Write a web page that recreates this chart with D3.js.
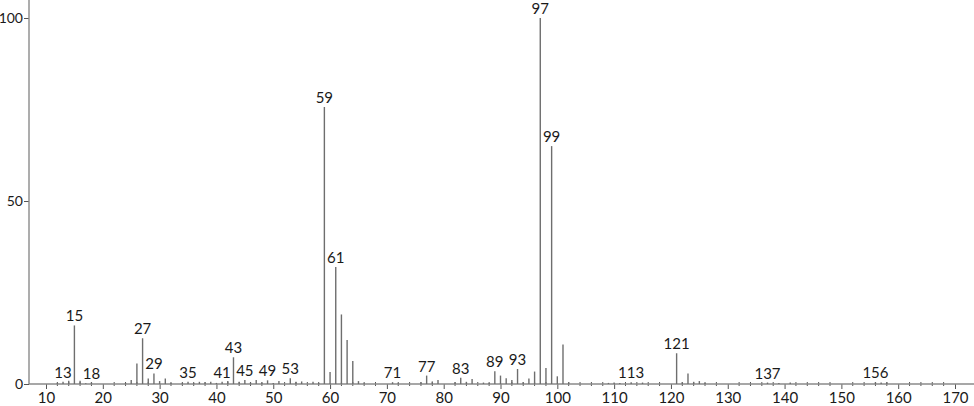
<!DOCTYPE html>
<html lang="en">
<head>
  <meta charset="UTF-8">
  <title>Mass Spectrum</title>
  <script src="https://d3js.org/d3.v7.min.js"></script>
  <style>
    body { margin: 0; background: #fff; }
    .peak { stroke: #6e6e6e; stroke-width: 1.4px; }
    .axis-line { stroke: #8a8a8a; stroke-width: 1.4px; }
    text { font-family: Lato, "DejaVu Sans", sans-serif; font-weight: 400; font-size: 15px; fill: #1a1a1a; }
  </style>
</head>
<body>
  <svg width="974" height="406"></svg>
  <script>
// m/z and relative intensity
const masses = [12, 13, 14, 15, 16, 17, 18, 24, 25, 26, 27, 28, 29, 30, 31, 32, 34, 35, 36, 37, 38, 39, 40,
  41, 42, 43, 44, 45, 46, 47, 48, 49, 50, 51, 53, 54, 55, 57, 58, 59, 60, 61, 62, 63, 64, 65, 66,
  71, 72, 76, 77, 78, 79, 82, 83, 84, 85, 87, 88, 89, 90, 91, 92, 93, 94, 95, 96, 97, 98, 99, 100,
  101, 102, 109, 110, 111, 113, 115, 121, 122, 123, 124, 125, 126, 137, 139, 141, 156, 157, 158];
const intensities = [0.3, 0.6, 0.9, 16, 0.9, 0.2, 0.4, 0.3, 1.1, 5.6, 12.5, 1.5, 2.9, 0.8, 1.5, 0.3, 0.3, 0.6, 0.3, 0.6, 0.5, 0.6, 0.3,
  0.6, 0.8, 7.3, 0.6, 1.1, 0.4, 1.1, 0.4, 1.0, 0.3, 0.8, 1.6, 0.6, 0.7, 0.6, 0.3, 75.7, 3.3, 32, 19, 12, 6.3, 0.8, 0.2,
  0.5, 0.2, 0.5, 2.3, 0.7, 1.1, 0.5, 1.7, 0.6, 1.4, 0.4, 0.3, 3.5, 2.3, 1.6, 1.1, 4.1, 0.5, 1.5, 3.4, 100, 4.4, 65, 2.1,
  10.8, 0.5, 0.3, 0.4, 0.3, 0.5, 0.4, 8.4, 0.5, 2.9, 0.6, 0.8, 0.3, 0.4, 0.3, 0.4, 0.5, 0.4, 0.5];
const labelled = [13, 15, 18, 27, 29, 35, 41, 43, 45, 49, 53, 59, 61, 71, 77, 83, 89, 93, 97, 99, 113, 121, 137, 156];
const xTicks = [10, 20, 30, 40, 50, 60, 70, 80, 90, 100, 110, 120, 130, 140, 150, 160, 170];
const yTicks = [0, 50, 100];

const peaks = masses.map((m, i) => ({ m: m, v: intensities[i] }));
const byMass = new Map(peaks.map(d => [d.m, d.v]));

const svg = d3.select("svg");
const x = d3.scaleLinear().domain([10, 170]).range([46, 955]);
const y = d3.scaleLinear().domain([0, 100]).range([384, 18]);
const axisX = 29;

// minor ticks every 2 units
const minor = d3.range(10, 172, 2).filter(v => v % 10 !== 0);
svg.append("g").selectAll("line")
  .data(minor)
  .enter().append("line")
  .attr("x1", d => x(d)).attr("x2", d => x(d))
  .attr("y1", y(0) - 2).attr("y2", y(0) + 2)
  .attr("stroke", "#555").attr("stroke-width", 1);

// x axis
svg.append("g")
  .attr("transform", `translate(0,${y(0)})`)
  .call(d3.axisBottom(x).tickValues(xTicks).tickSize(5).tickPadding(3))
  .call(g => g.select(".domain").remove())
  .call(g => g.selectAll(".tick line").attr("stroke", "#555"))
  .call(g => g.selectAll("text").attr("fill", "#1a1a1a").style("font-size", "15px"));
svg.append("line")
  .attr("class", "axis-line")
  .attr("x1", axisX).attr("x2", 974)
  .attr("y1", y(0)).attr("y2", y(0))
  .attr("stroke", "#555");

// y axis
svg.append("g")
  .attr("transform", `translate(${axisX},0)`)
  .call(d3.axisLeft(y).tickValues(yTicks).tickSize(5).tickPadding(1))
  .call(g => g.select(".domain").remove())
  .call(g => g.selectAll(".tick line").attr("stroke", "#555"))
  .call(g => g.selectAll("text").attr("fill", "#1a1a1a").style("font-size", "14px"));
svg.append("line")
  .attr("class", "axis-line")
  .attr("x1", axisX).attr("x2", axisX)
  .attr("y1", 0).attr("y2", y(0));

// peaks
svg.append("g").selectAll(".peak")
  .data(peaks)
  .enter().append("line")
  .attr("class", "peak")
  .attr("x1", d => x(d.m)).attr("x2", d => x(d.m))
  .attr("y1", y(0)).attr("y2", d => y(d.v));

// peak labels
svg.append("g").selectAll("text")
  .data(labelled)
  .enter().append("text")
  .attr("x", d => x(d))
  .attr("y", d => y(byMass.get(d) || 0) - 4)
  .attr("text-anchor", "middle")
  .text(d => d);
  </script>
</body>
</html>
